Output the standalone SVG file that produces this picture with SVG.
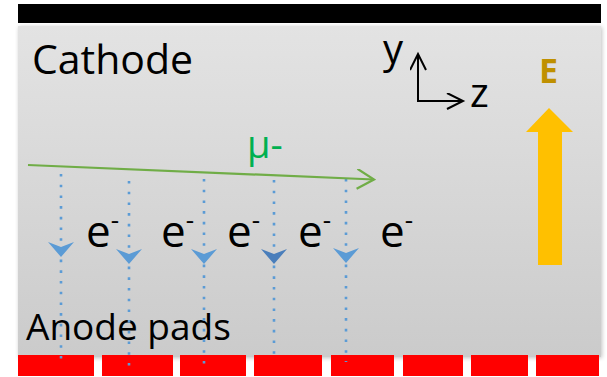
<svg xmlns="http://www.w3.org/2000/svg" width="607" height="377" viewBox="0 0 607 377">
  <style>
    .lbl { font-family: "Open Sans", "Liberation Sans", Arial, sans-serif; fill: #000; }
    .drift { stroke: #5b9bd5; stroke-width: 2.6; stroke-dasharray: 2.6 8.1; fill: none; }
    .pad { fill: #ff0000; }
    .ax { stroke: #000; stroke-width: 2; fill: none; }
  </style>
  <defs>
    <linearGradient id="gas" x1="0" y1="0" x2="0" y2="1">
      <stop offset="0" stop-color="#e3e3e3"/>
      <stop offset="1" stop-color="#cbcbcb"/>
    </linearGradient>
    <filter id="sh" x="-5%" y="-5%" width="110%" height="110%">
      <feGaussianBlur in="SourceAlpha" stdDeviation="2"/>
      <feOffset dx="1" dy="1"/>
      <feComponentTransfer><feFuncA type="linear" slope="0.25"/></feComponentTransfer>
      <feMerge><feMergeNode/><feMergeNode in="SourceGraphic"/></feMerge>
    </filter>
    <marker id="green" markerWidth="20" markerHeight="24" refX="18" refY="10" orient="auto" markerUnits="userSpaceOnUse">
      <path d="M1,0 L18,10 L1,20" fill="none" stroke="#70ad47" stroke-width="2.2"/>
    </marker>
    <marker id="blk" markerWidth="24" markerHeight="24" refX="17" refY="8" orient="auto" markerUnits="userSpaceOnUse">
      <path d="M1,0 L17,8 L1,16" fill="none" stroke="#000" stroke-width="2"/>
    </marker>
    <path id="chev" d="M-13,0 L0,5 L13,0 L0,15 Z"/>
  </defs>

  <g id="cathode">
    <rect x="18" y="4" width="583" height="19" fill="#000"/>
  </g>

  <g id="gas-volume">
    <rect x="18" y="26" width="583" height="331" fill="url(#gas)" filter="url(#sh)"/>
    <text class="lbl" x="32" y="74" font-size="41">Cathode</text>
  </g>

  <g id="anode-pads">
    <rect class="pad" x="18" y="355" width="76" height="21"/>
    <rect class="pad" x="102" y="355" width="71" height="21"/>
    <rect class="pad" x="180" y="355" width="66" height="21"/>
    <rect class="pad" x="254" y="355" width="68" height="21"/>
    <rect class="pad" x="331" y="355" width="63" height="21"/>
    <rect class="pad" x="403" y="355" width="60" height="21"/>
    <rect class="pad" x="471" y="355" width="57" height="21"/>
    <rect class="pad" x="536" y="355" width="63" height="21"/>
    <text class="lbl" x="26" y="340" font-size="37">Anode pads</text>
  </g>

  <g id="connectors">
    <line class="drift" x1="61" y1="174" x2="61" y2="362"/>
    <line class="drift" x1="129" y1="181" x2="129" y2="370"/>
    <line class="drift" x1="204" y1="179" x2="204" y2="370"/>
    <line class="drift" x1="274" y1="180" x2="274" y2="362"/>
    <line class="drift" x1="346" y1="179" x2="346" y2="362"/>
    <use href="#chev" x="61" y="242" fill="#5b9bd5"/>
    <use href="#chev" x="129" y="249" fill="#5b9bd5"/>
    <use href="#chev" x="204" y="249" fill="#5b9bd5"/>
    <use href="#chev" x="274" y="249" fill="#4a7ebb"/>
    <use href="#chev" x="346" y="248" fill="#5b9bd5"/>
    <line x1="28" y1="165" x2="374" y2="179.5" stroke="#70ad47" stroke-width="2.2" marker-end="url(#green)"/>
  </g>

  <g id="muon-label">
    <text class="lbl" x="247" y="158" font-size="38" style="fill:#00b050">μ-</text>
  </g>

  <g id="electrons">
    <text class="lbl" x="86" y="247" font-size="44">e<tspan font-size="26" dy="-18">-</tspan></text>
    <text class="lbl" x="161" y="247" font-size="44">e<tspan font-size="26" dy="-18">-</tspan></text>
    <text class="lbl" x="227" y="247" font-size="44">e<tspan font-size="26" dy="-18">-</tspan></text>
    <text class="lbl" x="298" y="247" font-size="44">e<tspan font-size="26" dy="-18">-</tspan></text>
    <text class="lbl" x="380" y="247" font-size="44">e<tspan font-size="26" dy="-18">-</tspan></text>
  </g>

  <g id="axes">
    <line class="ax" x1="418" y1="101" x2="418" y2="54" marker-end="url(#blk)"/>
    <line class="ax" x1="417" y1="101" x2="463" y2="101" marker-end="url(#blk)"/>
    <text class="lbl" x="383" y="63" font-size="40">y</text>
    <text class="lbl" x="470" y="107" font-size="40">z</text>
  </g>

  <g id="field">
    <text class="lbl" x="539" y="83" font-size="34" font-weight="bold" style="fill:#bf9000">E</text>
    <path d="M549,108 L573,132 L562,132 L562,265 L538,265 L538,132 L526,132 Z" fill="#ffc000"/>
  </g>
</svg>
